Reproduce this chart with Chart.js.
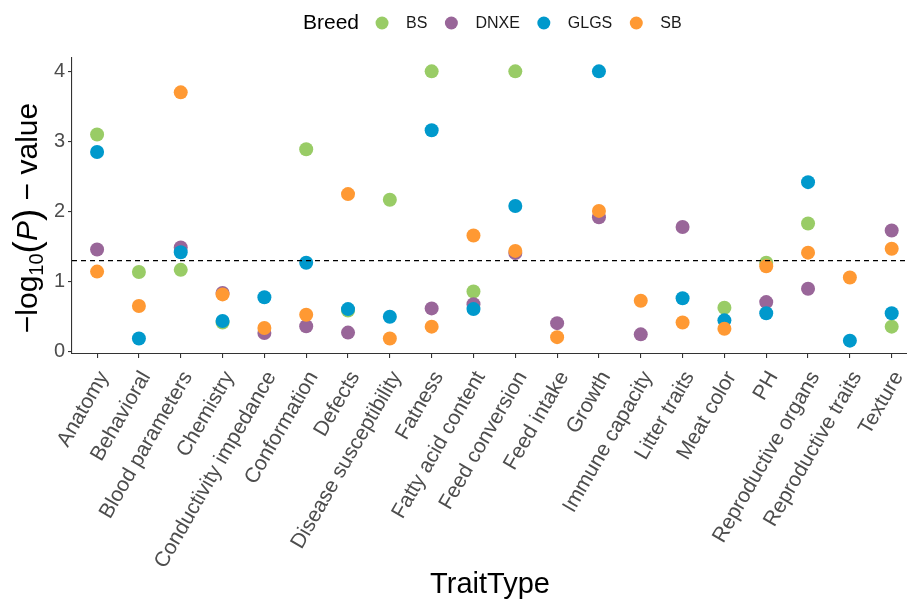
<!DOCTYPE html>
<html>
<head>
<meta charset="utf-8">
<script src="https://cdn.jsdelivr.net/npm/chart.js@4.4.1/dist/chart.umd.min.js"></script>
<style>
  body { margin: 0; background: #fff; overflow: hidden; }
  #wrap { width: 907px; height: 601px; overflow: hidden; }
</style>
</head>
<body>
<div id="wrap"><canvas id="traitChart" width="915" height="601"></canvas></div>
<script>
// trait categories on the x axis
var traitTypes = ['Anatomy', 'Behavioral', 'Blood parameters', 'Chemistry', 'Conductivity impedance',
  'Conformation', 'Defects', 'Disease susceptibility', 'Fatness', 'Fatty acid content',
  'Feed conversion', 'Feed intake', 'Growth', 'Immune capacity', 'Litter traits',
  'Meat color', 'PH', 'Reproductive organs', 'Reproductive traits', 'Texture'];

// -log10(P) per breed, null = no point
var bsValues   = [3.10, 1.14, 1.17, 0.42, null, 2.89, 0.59, 2.17, 4.00, 0.86, 4.00, null, null, null, null, 0.63, 1.27, 1.83, null, 0.36];
var dnxeValues = [1.46, null, 1.49, 0.84, 0.27, 0.365, 0.275, null, 0.62, 0.68, 1.41, 0.41, 1.92, 0.25, 1.78, null, 0.71, 0.90, null, 1.73];
var glgsValues = [2.85, 0.19, 1.42, 0.44, 0.78, 1.27, 0.61, 0.50, 3.16, 0.61, 2.08, null, 4.00, null, 0.765, 0.45, 0.55, 2.42, 0.16, 0.55];
var sbValues   = [1.145, 0.655, 3.70, 0.82, 0.34, 0.53, 2.25, 0.19, 0.36, 1.66, 1.44, 0.21, 2.01, 0.73, 0.42, 0.33, 1.22, 1.415, 1.06, 1.47];

var breeds = ['BS', 'DNXE', 'GLGS', 'SB'];
var breedColors = ['#99CC66', '#996699', '#0099CC', '#FF9933'];
var yTicks = [0, 1, 2, 3, 4];
var threshold = 1.30103; // -log10(0.05)

var FONT = "'Liberation Sans', Arial, Helvetica, sans-serif";

function toPoints(values) {
    var pts = [];
    values.forEach(function (v, i) {
        if (v !== null) pts.push({ x: i, y: v });
    });
    return pts;
}

var seriesValues = [bsValues, dnxeValues, glgsValues, sbValues];
var datasets = breeds.map(function (name, i) {
    return {
        label: name,
        data: toPoints(seriesValues[i]),
        backgroundColor: breedColors[i],
        borderWidth: 0,
        pointRadius: 7,
        pointHoverRadius: 7,
        order: breeds.length - i   // later breeds drawn on top
    };
});

// dashed significance line
var thresholdLine = {
    id: 'thresholdLine',
    afterDatasetsDraw: function (chart) {
        var ctx = chart.ctx, area = chart.chartArea;
        var y = chart.scales.y.getPixelForValue(threshold);
        ctx.save();
        ctx.beginPath();
        ctx.setLineDash([5, 4]);
        ctx.strokeStyle = '#000';
        ctx.lineWidth = 1.1;
        ctx.moveTo(area.left, y);
        ctx.lineTo(area.right, y);
        ctx.stroke();
        ctx.restore();
    }
};

// legend row with "Breed" title
var breedLegend = {
    id: 'breedLegend',
    afterDraw: function (chart) {
        var ctx = chart.ctx;
        var x = 303, yMid = 23;
        ctx.save();
        ctx.textBaseline = 'middle';
        ctx.fillStyle = '#000';
        ctx.font = '21px ' + FONT;
        ctx.fillText('Breed', x, yMid);
        x += ctx.measureText('Breed').width + 23;
        ctx.font = '16px ' + FONT;
        breeds.forEach(function (name, i) {
            ctx.beginPath();
            ctx.fillStyle = breedColors[i];
            ctx.arc(x, yMid, 6.5, 0, Math.PI * 2);
            ctx.fill();
            ctx.fillStyle = '#1a1a1a';
            ctx.fillText(name, x + 24, yMid + 1);
            x += 24 + ctx.measureText(name).width + 24;
        });
        ctx.restore();
    }
};

// y title: -log10(P) - value
var yTitle = {
    id: 'yTitle',
    afterDraw: function (chart) {
        var ctx = chart.ctx;
        var parts = [
            { t: '\u2212log', f: '30px ' + FONT, dy: 0 },
            { t: '10', f: '20px ' + FONT, dy: 6 },
            { t: '(', f: '37px ' + FONT, dy: 2 },
            { t: 'P', f: 'italic 30px ' + FONT, dy: 0 },
            { t: ')', f: '37px ' + FONT, dy: 2 },
            { t: ' \u2212 value', f: '30px ' + FONT, dy: 0 }
        ];
        ctx.save();
        var total = 0;
        parts.forEach(function (p) { ctx.font = p.f; p.w = ctx.measureText(p.t).width; total += p.w; });
        ctx.translate(37, 218);
        ctx.rotate(-Math.PI / 2);
        ctx.fillStyle = '#000';
        ctx.textBaseline = 'alphabetic';
        var x = -total / 2;
        parts.forEach(function (p) {
            ctx.font = p.f;
            ctx.fillText(p.t, x, p.dy);
            x += p.w;
        });
        ctx.restore();
    }
};

var ctx = document.getElementById('traitChart').getContext('2d');
var traitChart = new Chart(ctx, {
    type: 'scatter',
    data: { datasets: datasets },
    options: {
        responsive: false,
        animation: false,
        devicePixelRatio: 1,
        layout: { padding: { top: 58, left: 0, right: 0, bottom: 0 } },
        plugins: {
            legend: { display: false },
            tooltip: { enabled: false }
        },
        scales: {
            x: {
                type: 'linear',
                min: -0.6,
                max: 19.39,
                afterBuildTicks: function (scale) {
                    scale.ticks = traitTypes.map(function (t, i) { return { value: i }; });
                },
                afterFit: function (scale) {
                    scale.height = 247;
                    scale.paddingLeft = 0;
                    scale.paddingRight = 0;
                },
                ticks: {
                    autoSkip: false,
                    maxRotation: 60,
                    minRotation: 60,
                    padding: 9,
                    labelOffset: 7,
                    color: '#4D4D4D',
                    font: { family: FONT, size: 21 },
                    callback: function (v) { return traitTypes[v]; }
                },
                grid: { display: true, drawOnChartArea: false, drawTicks: true, tickLength: 4, color: '#333', lineWidth: 1.1 },
                border: { display: true, color: '#333', width: 1.1 },
                title: {
                    display: true,
                    text: 'TraitType',
                    color: '#000',
                    font: { family: FONT, size: 29, lineHeight: 1.1 },
                    padding: { top: 0, bottom: 0 }
                }
            },
            y: {
                type: 'linear',
                min: -0.03,
                max: 4.19,
                afterBuildTicks: function (scale) {
                    scale.ticks = yTicks.map(function (v) { return { value: v }; });
                },
                afterFit: function (scale) {
                    scale.width = 72;
                    scale.paddingTop = 0;
                    scale.paddingBottom = 0;
                },
                ticks: {
                    padding: 3,
                    color: '#4D4D4D',
                    font: { family: FONT, size: 20 }
                },
                grid: { display: true, drawOnChartArea: false, drawTicks: true, tickLength: 4, color: '#333', lineWidth: 1.1 },
                border: { display: true, color: '#333', width: 1.1 }
            }
        }
    },
    plugins: [thresholdLine, breedLegend, yTitle]
});
</script>
</body>
</html>
